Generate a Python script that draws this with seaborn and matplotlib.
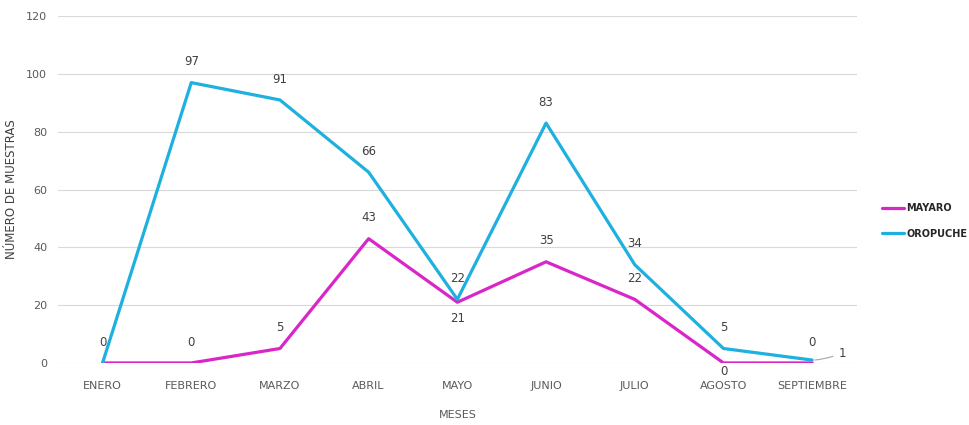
import numpy as np
import pandas as pd
import seaborn as sns
import matplotlib.pyplot as plt
from matplotlib.lines import Line2D

# Datos
meses = ['ENERO', 'FEBRERO', 'MARZO', 'ABRIL', 'MAYO', 'JUNIO', 'JULIO', 'AGOSTO', 'SEPTIEMBRE']
mayaro = [0, 0, 5, 43, 21, 35, 22, 0, 0]
oropuche = [0, 97, 91, 66, 22, 83, 34, 5, 1]

colores = {'MAYARO': '#D926C8', 'OROPUCHE': '#1EB0DE'}

df = pd.DataFrame({'mes': meses * 2,
                   'valor': mayaro + oropuche,
                   'virus': ['MAYARO'] * len(meses) + ['OROPUCHE'] * len(meses)})
df['x'] = list(range(len(meses))) * 2

sns.set_theme(style='white')
plt.rcParams['font.family'] = ['Liberation Sans Narrow', 'DejaVu Sans']

fig = plt.figure(figsize=(9.7, 4.25), dpi=100)
ax = fig.add_axes([0.06, 0.146, 0.823, 0.816])

sns.lineplot(data=df, x='x', y='valor', hue='virus', palette=colores,
             linewidth=2.3, ax=ax, legend=False, zorder=3)

ax.set_xlim(-0.5, len(meses) - 0.5)
ax.set_ylim(0, 120)
ax.set_yticks(range(0, 121, 20))
ax.set_xticks(range(len(meses)))
ax.set_xticklabels(meses)
ax.grid(axis='y', color='#D9D9D9', linewidth=0.8)
for s in ax.spines.values():
    s.set_visible(False)
ax.tick_params(axis='y', length=0, labelsize=8, colors='#595959', pad=8)
ax.tick_params(axis='x', length=0, labelsize=8, colors='#595959', pad=13)
ax.set_xlabel('MESES', fontsize=8, color='#595959', labelpad=14)
ax.set_ylabel('NÚMERO DE MUESTRAS', fontsize=8.5, color='#404040', labelpad=6)

# Etiquetas de datos
txt = dict(fontsize=8.5, color='#404040', ha='center', va='center')
for i, v in enumerate(oropuche):
    if i in (0, 8):
        continue
    ax.annotate(str(v), (i, v), xytext=(0, 15), textcoords='offset points', **txt)
for i, v in enumerate(mayaro):
    dy = 15
    if i == 4:
        dy = -12
    elif i == 7:
        dy = -6
    ax.annotate(str(v), (i, v), xytext=(0, dy), textcoords='offset points', **txt)
# Septiembre oropuche con linea guia
ax.annotate(str(oropuche[8]), (8, oropuche[8]), xytext=(22, 5), textcoords='offset points',
            arrowprops=dict(arrowstyle='-', color='#A6A6A6', lw=0.8,
                            connectionstyle='angle3,angleA=20,angleB=0'), **txt)

# Leyenda
handles = [Line2D([], [], color=colores[k], lw=2.3) for k in colores]
leg = fig.legend(handles, list(colores), loc='center left', bbox_to_anchor=(0.902, 0.48),
                 frameon=False, fontsize=7, handlelength=2.3, handletextpad=0.2,
                 labelspacing=1.6, borderpad=0.2)
for t in leg.get_texts():
    t.set_fontweight('bold')
    t.set_color('#262626')

plt.savefig('out.png', dpi=100)
